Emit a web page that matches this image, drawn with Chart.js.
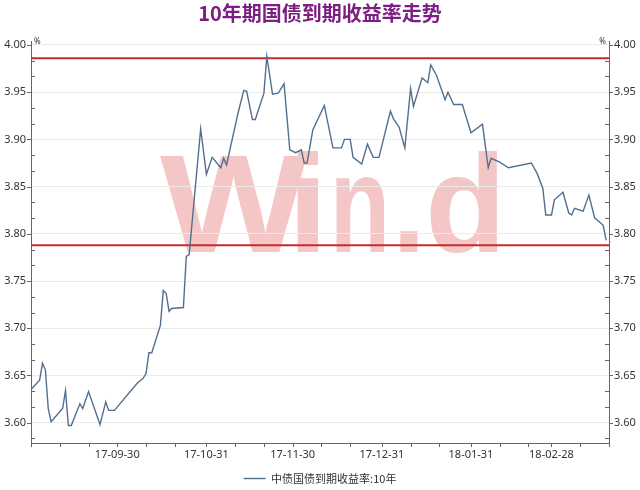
<!DOCTYPE html>
<html>
<head>
<meta charset="utf-8">
<script src="https://cdn.jsdelivr.net/npm/chart.js@4.4.1/dist/chart.umd.min.js"></script>
<style>
  html, body { margin: 0; padding: 0; background: #fff; }
  #wrap { width: 640px; height: 490px; }
</style>
</head>
<body>
<div id="wrap"><canvas id="yieldChart" width="640" height="490"></canvas></div>
<script>
// fechas y rendimientos (%)
const dates = [
    '2017-08-31', '2017-09-03', '2017-09-04', '2017-09-05', '2017-09-06', '2017-09-07', '2017-09-11', '2017-09-12', '2017-09-13',
    '2017-09-14', '2017-09-17', '2017-09-18', '2017-09-20', '2017-09-24', '2017-09-26', '2017-09-27', '2017-09-29',
    '2017-10-07', '2017-10-09', '2017-10-10', '2017-10-11', '2017-10-12', '2017-10-15', '2017-10-16', '2017-10-17',
    '2017-10-18', '2017-10-19', '2017-10-23', '2017-10-24', '2017-10-25', '2017-10-29', '2017-10-31',
    '2017-11-02', '2017-11-05', '2017-11-06', '2017-11-07', '2017-11-11', '2017-11-13', '2017-11-14', '2017-11-16',
    '2017-11-17', '2017-11-20', '2017-11-21', '2017-11-23', '2017-11-25', '2017-11-27', '2017-11-29',
    '2017-12-01', '2017-12-03', '2017-12-04', '2017-12-05', '2017-12-07', '2017-12-11', '2017-12-14', '2017-12-17',
    '2017-12-18', '2017-12-20', '2017-12-21', '2017-12-24', '2017-12-26', '2017-12-28', '2017-12-30',
    '2018-01-03', '2018-01-04', '2018-01-06', '2018-01-08', '2018-01-10', '2018-01-11', '2018-01-14', '2018-01-16',
    '2018-01-17', '2018-01-19', '2018-01-22', '2018-01-23', '2018-01-25', '2018-01-28', '2018-01-31',
    '2018-02-04', '2018-02-06', '2018-02-07', '2018-02-10', '2018-02-13', '2018-02-21', '2018-02-23', '2018-02-25',
    '2018-02-26', '2018-02-28',
    '2018-03-01', '2018-03-04', '2018-03-06', '2018-03-07', '2018-03-08', '2018-03-11', '2018-03-13', '2018-03-15',
    '2018-03-18', '2018-03-19'
];
const yields = [
    3.635, 3.645, 3.663, 3.656, 3.615, 3.601, 3.615, 3.634, 3.597,
    3.597, 3.620, 3.615, 3.633, 3.598, 3.622, 3.613, 3.613,
    3.642, 3.647, 3.652, 3.674, 3.674, 3.703, 3.740, 3.737,
    3.718, 3.721, 3.722, 3.776, 3.778, 3.911, 3.863,
    3.881, 3.870, 3.880, 3.873, 3.928, 3.952, 3.951, 3.921,
    3.921, 3.949, 3.988, 3.948, 3.949, 3.959, 3.889,
    3.886, 3.889, 3.875, 3.875, 3.910, 3.936, 3.891, 3.891,
    3.900, 3.900, 3.881, 3.874, 3.895, 3.881, 3.881,
    3.930, 3.922, 3.913, 3.891, 3.954, 3.935, 3.965, 3.960,
    3.979, 3.968, 3.942, 3.950, 3.937, 3.937, 3.907,
    3.916, 3.870, 3.880, 3.876, 3.870, 3.875, 3.864, 3.848,
    3.820, 3.820,
    3.836, 3.844, 3.822, 3.820, 3.827, 3.824, 3.841, 3.817,
    3.809, 3.793
];

// lineas rojas del rango
const bandLines = [3.986, 3.788];

// ejes
const yTicks = [3.60, 3.65, 3.70, 3.75, 3.80, 3.85, 3.90, 3.95, 4.00];
const yRange = [3.5785, 4.0042];
const xTickLabels = ['17-09-30', '17-10-31', '17-11-30', '17-12-31', '18-01-31', '18-02-28'];
const xRange = ['2017-08-31', '2018-03-20'];

const seriesName = '中债国债到期收益率:10年';
const titleText = '10年期国债到期收益率走势';

// dias contados desde 2017-09-30
const baseDay = Date.UTC(2017, 8, 30);
function dayOf(s) {
    const [yy, mm, dd] = s.split('-').map(Number);
    return (Date.UTC(yy, mm - 1, dd) - baseDay) / 86400000;
}
const xMin = dayOf(xRange[0]);
const xMax = dayOf(xRange[1]);
const xTickDays = xTickLabels.map(l => dayOf('20' + l));

// marcas de ejes, marca de agua y los "%"
const decor = {
    id: 'decor',
    beforeDraw(chart) {
        // marca de agua detras de la rejilla
        const ctx = chart.ctx;
        ctx.save();
        ctx.fillStyle = '#f5c6c6';
        ctx.font = 'bold 140px "Liberation Sans", sans-serif';
        const letters = [['W', 160, 307], ['i', 297, 318], ['n', 336, 384], ['.', 400, 418], ['d', 430, 498]];
        letters.forEach(([ch, l, r]) => {
            const m = ctx.measureText(ch);
            const inkL = -m.actualBoundingBoxLeft;
            const inkR = m.actualBoundingBoxRight;
            const sx = (r - l) / (inkR - inkL);
            ctx.save();
            ctx.translate(l - inkL * sx, 213);
            ctx.scale(sx, 1);
            ctx.fillText(ch, 0, 0);
            ctx.restore();
        });
        ctx.restore();
    },
    afterDraw(chart) {
        const { ctx, chartArea: a, scales: { x, y } } = chart;
        ctx.save();
        ctx.strokeStyle = '#666';
        ctx.lineWidth = 1;
        ctx.beginPath();
        // ticks mayores hacia fuera
        yTicks.forEach(v => {
            const py = Math.round(y.getPixelForValue(v)) + 0.5;
            ctx.moveTo(a.left - 4, py); ctx.lineTo(a.left, py);
            ctx.moveTo(a.right, py); ctx.lineTo(a.right + 4, py);
        });
        // ticks menores hacia dentro (3 por intervalo)
        const step = (yTicks[1] - yTicks[0]) / 3;
        for (let k = -1; k < (yTicks.length - 1) * 3 + 2; k++) {
            if (k % 3 === 0) continue;
            const v = yTicks[0] + k * step;
            if (v < y.min || v > y.max) continue;
            const py = Math.round(y.getPixelForValue(v)) + 0.5;
            ctx.moveTo(a.left, py); ctx.lineTo(a.left + 4, py);
            ctx.moveTo(a.right - 4, py); ctx.lineTo(a.right, py);
        }
        // ticks del eje x: dia 10, 20 y fin de mes
        for (let m = 7; m <= 14; m++) {
            const last = new Date(Date.UTC(2017, m + 1, 0)).getUTCDate();
            [10, 20, last].forEach(d => {
                const day = (Date.UTC(2017, m, d) - baseDay) / 86400000;
                if (day < xMin || day > xMax) return;
                const px = Math.round(x.getPixelForValue(day)) + 0.5;
                ctx.moveTo(px, a.bottom); ctx.lineTo(px, a.bottom + 4);
            });
        }
        ctx.stroke();
        ctx.fillStyle = '#333';
        ctx.font = '8px "Noto Sans", sans-serif';
        ctx.textBaseline = 'middle';
        ctx.textAlign = 'left';
        ctx.fillText('%', a.left + 3, a.top + 1);
        ctx.textAlign = 'right';
        ctx.fillText('%', a.right - 3, a.top + 1);
        ctx.restore();
    }
};

Chart.defaults.font.family = '"Noto Sans", "Noto Sans CJK SC", sans-serif';

const ctx = document.getElementById('yieldChart').getContext('2d');
new Chart(ctx, {
    type: 'line',
    data: {
        datasets: [
            {
                label: seriesName,
                data: dates.map((d, i) => ({ x: dayOf(d), y: yields[i] })),
                borderColor: '#51708f',
                backgroundColor: '#51708f',
                borderWidth: 1.4,
                pointRadius: 0,
                tension: 0
            },
            ...bandLines.map(v => ({
                label: 'band',
                data: [{ x: xMin, y: v }, { x: xMax, y: v }],
                borderColor: '#c62a2e',
                borderWidth: 2,
                pointRadius: 0
            }))
        ]
    },
    options: {
        responsive: false,
        animation: false,
        layout: { padding: { bottom: -4 } },
        plugins: {
            title: {
                display: true,
                text: titleText,
                color: '#7d1f82',
                font: { size: 20, weight: 'bold', family: '"Noto Sans CJK SC", sans-serif' },
                padding: { top: 1, bottom: 16 }
            },
            legend: {
                position: 'bottom',
                labels: {
                    usePointStyle: true,
                    pointStyle: 'line',
                    pointStyleWidth: 22,
                    color: '#333',
                    font: { size: 11, family: '"Noto Sans CJK SC", sans-serif' },
                    padding: 6,
                    filter: item => item.datasetIndex === 0
                }
            },
            tooltip: { enabled: false }
        },
        scales: {
            x: {
                type: 'linear',
                min: xMin,
                max: xMax,
                afterBuildTicks: s => { s.ticks = xTickDays.map(v => ({ value: v })); },
                afterFit: s => { s.height = 24; },
                ticks: { color: '#333', font: { size: 11 }, padding: 5, maxRotation: 0, autoSkip: false, callback: (v, i) => xTickLabels[i] },
                grid: { display: false, drawTicks: false },
                border: { color: '#666' }
            },
            y: {
                type: 'linear',
                position: 'left',
                min: yRange[0],
                max: yRange[1],
                afterBuildTicks: s => { s.ticks = yTicks.map(v => ({ value: v })); },
                afterFit: s => { s.width = 31; },
                ticks: { color: '#333', font: { size: 11 }, padding: 5, callback: v => v.toFixed(2) },
                grid: { color: '#ebebeb', drawTicks: false },
                border: { color: '#666' }
            },
            y2: {
                type: 'linear',
                position: 'right',
                min: yRange[0],
                max: yRange[1],
                afterBuildTicks: s => { s.ticks = yTicks.map(v => ({ value: v })); },
                afterFit: s => { s.width = 31; },
                ticks: { color: '#333', font: { size: 11 }, padding: 5, callback: v => v.toFixed(2) },
                grid: { display: false, drawTicks: false },
                border: { color: '#666' }
            }
        }
    },
    plugins: [decor]
});
</script>
</body>
</html>
